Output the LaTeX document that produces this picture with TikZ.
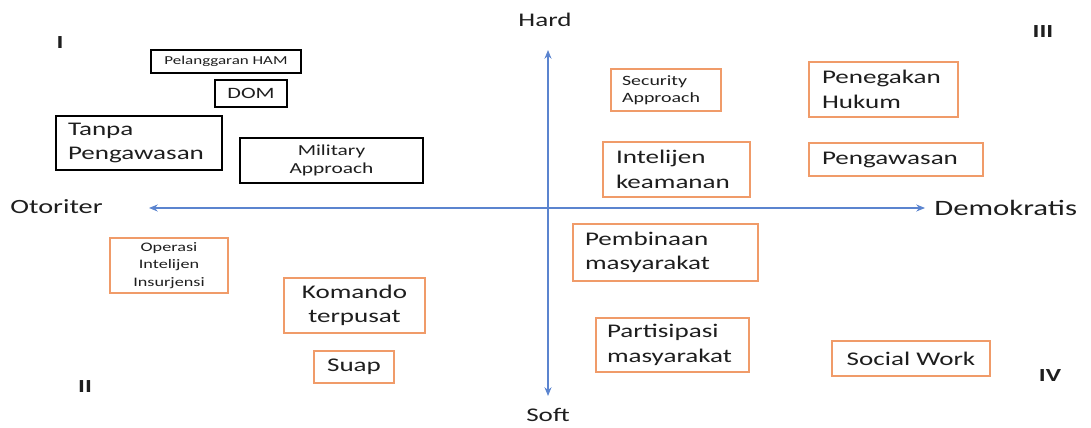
\documentclass[tikz,border=0pt]{standalone}
\usepackage{fontspec}
\setmainfont{Carlito}[FakeStretch=1.4]
\usetikzlibrary{arrows.meta}

\definecolor{axisblue}{RGB}{91,132,207}
\definecolor{boxorange}{RGB}{240,155,105}
\definecolor{inkgray}{RGB}{30,30,30}

\begin{document}
\begin{tikzpicture}[x=0.02cm, y=-0.02cm,
  every node/.style={text=inkgray},
  hbox/.style={draw=black, line width=0.8pt, rectangle, inner sep=0pt},
  obox/.style={draw=boxorange, line width=0.8pt, rectangle, inner sep=0pt},
  big/.style={font=\fontsize{11}{14}\selectfont},
  axis/.style={<->, >={Stealth[length=5pt,width=4pt]}, draw=axisblue, line width=0.6pt}]
  \useasboundingbox (0,0) rectangle (1091,428);

  % axes
  \coordinate (hardend) at (548,50);
  \coordinate (softend) at (548,396);
  \coordinate (otoend) at (149,208);
  \coordinate (demoend) at (925,208);
  \draw[axis] (softend) -- (hardend);
  \draw[axis] (otoend) -- (demoend);

  \node[font=\fontsize{11}{13}\selectfont] (hard) at (545,20) {Hard};
  \node[font=\fontsize{11}{13}\selectfont] (soft) at (548,415) {Soft};
  \node[font=\fontsize{11.5}{14}\selectfont, anchor=west, inner sep=0pt] (otoriter) at (10,207) {Otoriter};
  \node[font=\fontsize{12.5}{15}\selectfont, anchor=west, inner sep=0pt] (demokratis) at (934,208) {Demokratis};

  % quadrant numbers
  \node[font=\bfseries\fontsize{10.5}{12}\selectfont] (qone) at (60,43) {I};
  \node[font=\bfseries\fontsize{10.5}{12}\selectfont] (qtwo) at (85,387) {II};
  \node[font=\bfseries\fontsize{10.5}{12}\selectfont] (qthree) at (1043,32) {III};
  \node[font=\bfseries\fontsize{10.5}{12}\selectfont] (qfour) at (1050,376) {IV};

  % quadrant I
  \node[hbox, font=\fontsize{6.9}{8.4}\selectfont, minimum width=3cm, minimum height=0.46cm] (ham) at (226,61.5) {Pelanggaran HAM};
  \node[hbox, font=\fontsize{9}{11}\selectfont, minimum width=1.44cm, minimum height=0.54cm] (dom) at (251,93.5) {DOM};
  \node[hbox, big, inner xsep=0.24cm, text width=2.84cm, align=left, minimum height=1.08cm] (tanpa) at (139,143) {Tanpa\\Pengawasan};
  \node[hbox, font=\fontsize{8.7}{10.2}\selectfont, align=center, minimum width=3.66cm, minimum height=0.9cm] (military) at (331.5,160.5) {Military\\Approach};

  % quadrant II
  \node[obox, font=\fontsize{7.4}{9.9}\selectfont, align=center, minimum width=2.36cm, minimum height=1.1cm] (operasi) at (169,265.5) {Operasi\\Intelijen\\Insurjensi};
  \node[obox, big, align=center, minimum width=2.82cm, minimum height=1.1cm] (komando) at (354.5,305.5) {Komando\\terpusat};
  \node[obox, big, minimum width=1.6cm, minimum height=0.64cm] (suap) at (354,367) {Suap};

  % quadrant III
  \node[obox, font=\fontsize{8.1}{9.7}\selectfont, inner xsep=0.22cm, text width=1.76cm, align=left, minimum height=0.84cm] (security) at (666,90) {Security\\Approach};
  \node[obox, big, inner xsep=0.26cm, text width=2.46cm, align=left, minimum height=1.1cm] (penegakan) at (883.5,89.5) {Penegakan\\Hukum};
  \node[obox, big, inner xsep=0.26cm, text width=2.42cm, align=left, minimum height=1.1cm] (intelijen) at (676.5,169.5) {Intelijen\\keamanan};
  \node[obox, big, inner xsep=0.26cm, text width=2.96cm, align=left, minimum height=0.66cm] (pengawasan) at (896,159.5) {Pengawasan};

  % quadrant IV
  \node[obox, big, inner xsep=0.24cm, text width=3.22cm, align=left, minimum height=1.14cm] (pembinaan) at (665.5,252.5) {Pembinaan\\masyarakat};
  \node[obox, big, inner xsep=0.22cm, text width=2.62cm, align=left, minimum height=1.08cm] (partisipasi) at (672.5,345) {Partisipasi\\masyarakat};
  \node[obox, big, minimum width=3.16cm, minimum height=0.7cm] (social) at (911,358.5) {Social Work};
\end{tikzpicture}
\end{document}
